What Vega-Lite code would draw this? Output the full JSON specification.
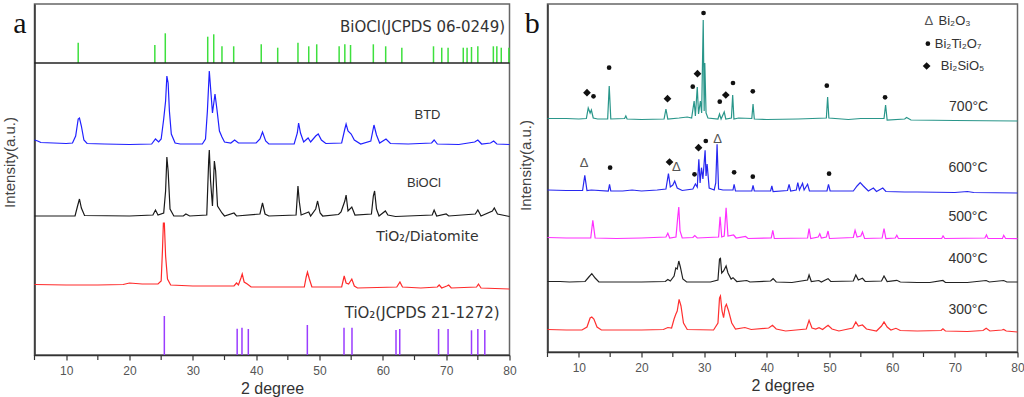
{
  "$schema": "https://vega.github.io/schema/vega-lite/v6.json",
  "padding": {"left": 1.5, "top": 3, "right": 0, "bottom": 0},
  "bounds": "flush",
  "spacing": 38,
  "background": "white",
  "config": {
    "view": {"stroke": "#666", "strokeWidth": 1.5},
    "font": "Liberation Sans",
    "axis": {"grid": false, "domainColor": "#333", "domainWidth": 1.5, "tickColor": "#333", "tickWidth": 1.2},
    "text": {"font": "Liberation Sans"}
  },
  "resolve": {"scale": {"x": "independent", "y": "independent", "color": "independent", "shape": "independent", "size": "independent"}},
  "datasets": {
    "minor": [{"t":5},{"t":15},{"t":25},{"t":35},{"t":45},{"t":55},{"t":65},{"t":75}],
    "a_lines": [
      {"s":"BTD","t":5,"v":215},{"s":"BTD","t":5.5,"v":214},{"s":"BTD","t":6,"v":212.5},{"s":"BTD","t":8,"v":212},{"s":"BTD","t":10,"v":211.5},{"s":"BTD","t":11,"v":212},{"s":"BTD","t":11.5,"v":219},{"s":"BTD","t":11.9,"v":236},{"s":"BTD","t":12.1,"v":237},{"s":"BTD","t":12.4,"v":229},{"s":"BTD","t":12.8,"v":215},{"s":"BTD","t":13.3,"v":211.5},{"s":"BTD","t":16,"v":211},{"s":"BTD","t":20,"v":210.5},{"s":"BTD","t":23.5,"v":211},{"s":"BTD","t":24.1,"v":216},{"s":"BTD","t":24.6,"v":213},{"s":"BTD","t":25,"v":216},{"s":"BTD","t":25.4,"v":236},{"s":"BTD","t":25.7,"v":254},{"s":"BTD","t":25.9,"v":279},{"s":"BTD","t":26.1,"v":272},{"s":"BTD","t":26.3,"v":244},{"s":"BTD","t":26.6,"v":221},{"s":"BTD","t":27.2,"v":212},{"s":"BTD","t":28,"v":211},{"s":"BTD","t":31.5,"v":211},{"s":"BTD","t":32,"v":216},{"s":"BTD","t":32.3,"v":244},{"s":"BTD","t":32.6,"v":284},{"s":"BTD","t":32.9,"v":259},{"s":"BTD","t":33.1,"v":242},{"s":"BTD","t":33.5,"v":261},{"s":"BTD","t":33.8,"v":246},{"s":"BTD","t":34.2,"v":224},{"s":"BTD","t":34.6,"v":218},{"s":"BTD","t":35,"v":213},{"s":"BTD","t":36,"v":212},{"s":"BTD","t":36.6,"v":215},{"s":"BTD","t":37.2,"v":212},{"s":"BTD","t":40,"v":212},{"s":"BTD","t":40.6,"v":216},{"s":"BTD","t":41,"v":223},{"s":"BTD","t":41.5,"v":214},{"s":"BTD","t":42,"v":211},{"s":"BTD","t":46,"v":211},{"s":"BTD","t":46.5,"v":222},{"s":"BTD","t":46.7,"v":232},{"s":"BTD","t":47,"v":222},{"s":"BTD","t":47.5,"v":213},{"s":"BTD","t":48.2,"v":217},{"s":"BTD","t":48.6,"v":213},{"s":"BTD","t":49.4,"v":219},{"s":"BTD","t":49.8,"v":221},{"s":"BTD","t":50.3,"v":215},{"s":"BTD","t":51,"v":211.5},{"s":"BTD","t":53.5,"v":212},{"s":"BTD","t":54,"v":226},{"s":"BTD","t":54.2,"v":231},{"s":"BTD","t":54.5,"v":224},{"s":"BTD","t":55,"v":221},{"s":"BTD","t":55.5,"v":215},{"s":"BTD","t":56.5,"v":211},{"s":"BTD","t":58.1,"v":214},{"s":"BTD","t":58.6,"v":230},{"s":"BTD","t":59,"v":220},{"s":"BTD","t":59.5,"v":212},{"s":"BTD","t":60.5,"v":216},{"s":"BTD","t":61.2,"v":211.5},{"s":"BTD","t":64,"v":211},{"s":"BTD","t":67.7,"v":212},{"s":"BTD","t":68.1,"v":215},{"s":"BTD","t":68.6,"v":211},{"s":"BTD","t":72,"v":210.5},{"s":"BTD","t":74.5,"v":213},{"s":"BTD","t":75,"v":215},{"s":"BTD","t":75.6,"v":211},{"s":"BTD","t":77,"v":212},{"s":"BTD","t":77.5,"v":214},{"s":"BTD","t":78,"v":211},{"s":"BTD","t":80,"v":210.5},
      {"s":"BiOCl","t":5,"v":139},{"s":"BiOCl","t":11.4,"v":139},{"s":"BiOCl","t":11.8,"v":149},{"s":"BiOCl","t":12.1,"v":156},{"s":"BiOCl","t":12.4,"v":147},{"s":"BiOCl","t":12.9,"v":139.5},{"s":"BiOCl","t":20,"v":139},{"s":"BiOCl","t":23.7,"v":140},{"s":"BiOCl","t":24.1,"v":145},{"s":"BiOCl","t":24.5,"v":140},{"s":"BiOCl","t":25.4,"v":142},{"s":"BiOCl","t":25.7,"v":164},{"s":"BiOCl","t":25.9,"v":198},{"s":"BiOCl","t":26.1,"v":184},{"s":"BiOCl","t":26.4,"v":146},{"s":"BiOCl","t":27,"v":139},{"s":"BiOCl","t":28.5,"v":139},{"s":"BiOCl","t":28.9,"v":141},{"s":"BiOCl","t":29.5,"v":139},{"s":"BiOCl","t":32.2,"v":140},{"s":"BiOCl","t":32.5,"v":194},{"s":"BiOCl","t":32.6,"v":205},{"s":"BiOCl","t":32.8,"v":174},{"s":"BiOCl","t":33.1,"v":149},{"s":"BiOCl","t":33.4,"v":194},{"s":"BiOCl","t":33.6,"v":184},{"s":"BiOCl","t":33.9,"v":149},{"s":"BiOCl","t":34.6,"v":142},{"s":"BiOCl","t":35,"v":139},{"s":"BiOCl","t":36.5,"v":142},{"s":"BiOCl","t":36.9,"v":139},{"s":"BiOCl","t":40.6,"v":141},{"s":"BiOCl","t":41,"v":152},{"s":"BiOCl","t":41.4,"v":141},{"s":"BiOCl","t":42,"v":139},{"s":"BiOCl","t":46.3,"v":140},{"s":"BiOCl","t":46.6,"v":169},{"s":"BiOCl","t":46.8,"v":154},{"s":"BiOCl","t":47.1,"v":140},{"s":"BiOCl","t":48.3,"v":143},{"s":"BiOCl","t":48.6,"v":139},{"s":"BiOCl","t":49.4,"v":146},{"s":"BiOCl","t":49.7,"v":154},{"s":"BiOCl","t":50.1,"v":142},{"s":"BiOCl","t":50.5,"v":139},{"s":"BiOCl","t":53,"v":140.5},{"s":"BiOCl","t":53.4,"v":143},{"s":"BiOCl","t":54,"v":154},{"s":"BiOCl","t":54.2,"v":160},{"s":"BiOCl","t":54.5,"v":144},{"s":"BiOCl","t":55.1,"v":148},{"s":"BiOCl","t":55.6,"v":140},{"s":"BiOCl","t":58.2,"v":141},{"s":"BiOCl","t":58.5,"v":159},{"s":"BiOCl","t":58.7,"v":164},{"s":"BiOCl","t":59,"v":146},{"s":"BiOCl","t":59.4,"v":139},{"s":"BiOCl","t":60.4,"v":144},{"s":"BiOCl","t":60.8,"v":140},{"s":"BiOCl","t":62,"v":138.5},{"s":"BiOCl","t":67.8,"v":140},{"s":"BiOCl","t":68.1,"v":145},{"s":"BiOCl","t":68.5,"v":139},{"s":"BiOCl","t":70,"v":141},{"s":"BiOCl","t":70.4,"v":139},{"s":"BiOCl","t":74.6,"v":141},{"s":"BiOCl","t":75,"v":145},{"s":"BiOCl","t":75.5,"v":139},{"s":"BiOCl","t":77.3,"v":144},{"s":"BiOCl","t":77.6,"v":147},{"s":"BiOCl","t":78.1,"v":141},{"s":"BiOCl","t":80,"v":138.5},
      {"s":"TiO2/Diatomite","t":5,"v":70.5},{"s":"TiO2/Diatomite","t":10,"v":70},{"s":"TiO2/Diatomite","t":15,"v":70},{"s":"TiO2/Diatomite","t":19,"v":70.5},{"s":"TiO2/Diatomite","t":20,"v":72},{"s":"TiO2/Diatomite","t":22,"v":71},{"s":"TiO2/Diatomite","t":24.5,"v":71},{"s":"TiO2/Diatomite","t":25,"v":74},{"s":"TiO2/Diatomite","t":25.2,"v":104},{"s":"TiO2/Diatomite","t":25.35,"v":132},{"s":"TiO2/Diatomite","t":25.5,"v":132},{"s":"TiO2/Diatomite","t":25.7,"v":99},{"s":"TiO2/Diatomite","t":26,"v":76},{"s":"TiO2/Diatomite","t":26.5,"v":70},{"s":"TiO2/Diatomite","t":30,"v":69},{"s":"TiO2/Diatomite","t":36.5,"v":69},{"s":"TiO2/Diatomite","t":36.9,"v":72},{"s":"TiO2/Diatomite","t":37.2,"v":70},{"s":"TiO2/Diatomite","t":37.6,"v":77},{"s":"TiO2/Diatomite","t":37.8,"v":81},{"s":"TiO2/Diatomite","t":38.1,"v":73},{"s":"TiO2/Diatomite","t":38.6,"v":71},{"s":"TiO2/Diatomite","t":39.2,"v":68},{"s":"TiO2/Diatomite","t":47.6,"v":68},{"s":"TiO2/Diatomite","t":47.9,"v":78},{"s":"TiO2/Diatomite","t":48.1,"v":83},{"s":"TiO2/Diatomite","t":48.4,"v":76},{"s":"TiO2/Diatomite","t":48.8,"v":68},{"s":"TiO2/Diatomite","t":53.5,"v":68},{"s":"TiO2/Diatomite","t":53.9,"v":79},{"s":"TiO2/Diatomite","t":54.2,"v":72},{"s":"TiO2/Diatomite","t":54.6,"v":71},{"s":"TiO2/Diatomite","t":55.1,"v":76},{"s":"TiO2/Diatomite","t":55.5,"v":69},{"s":"TiO2/Diatomite","t":56,"v":67},{"s":"TiO2/Diatomite","t":62.2,"v":68},{"s":"TiO2/Diatomite","t":62.7,"v":73},{"s":"TiO2/Diatomite","t":63.1,"v":68},{"s":"TiO2/Diatomite","t":66,"v":67},{"s":"TiO2/Diatomite","t":68.6,"v":68},{"s":"TiO2/Diatomite","t":68.9,"v":70},{"s":"TiO2/Diatomite","t":69.3,"v":67},{"s":"TiO2/Diatomite","t":70.1,"v":69},{"s":"TiO2/Diatomite","t":70.4,"v":70},{"s":"TiO2/Diatomite","t":70.8,"v":67},{"s":"TiO2/Diatomite","t":74.8,"v":68},{"s":"TiO2/Diatomite","t":75.1,"v":71},{"s":"TiO2/Diatomite","t":75.5,"v":67},{"s":"TiO2/Diatomite","t":80,"v":66}
    ],
    "a_ref_bioc": [
      {"t":11.9,"v":312.3},{"t":24.0,"v":310},{"t":25.65,"v":321.7},{"t":32.35,"v":318.3},{"t":33.3,"v":320.7},{"t":34.6,"v":308.7},{"t":36.45,"v":308.7},{"t":40.8,"v":310.7},{"t":43.4,"v":307.3},{"t":46.6,"v":312.3},{"t":48.3,"v":308.7},{"t":49.56,"v":310.7},{"t":53.1,"v":308.7},{"t":54.0,"v":310.7},{"t":54.9,"v":310},{"t":58.5,"v":310.7},{"t":60.45,"v":308.7},{"t":63.0,"v":307.3},{"t":68.0,"v":308.7},{"t":69.3,"v":307.3},{"t":70.3,"v":307.3},{"t":72.7,"v":307.3},{"t":73.3,"v":307.3},{"t":74.0,"v":308},{"t":75.0,"v":308.7},{"t":77.45,"v":308.7},{"t":78.0,"v":308.7},{"t":78.7,"v":307.3},{"t":79.9,"v":307.3}
    ],
    "a_ref_tio2": [
      {"t":25.5,"v":39},{"t":37.0,"v":26.3},{"t":37.76,"v":27.3},{"t":38.76,"v":26},{"t":48.08,"v":30},{"t":53.87,"v":27.3},{"t":55.13,"v":27.3},{"t":62.08,"v":25},{"t":62.67,"v":26},{"t":68.8,"v":26},{"t":70.3,"v":26},{"t":74.0,"v":24.7},{"t":75.0,"v":26},{"t":76.1,"v":25}
    ],
    "a_text_short": [
      {"t":67.05,"v":240,"label":"BTD"},{"t":66.5,"v":172,"label":"BiOCl"}
    ],
    "a_text_mid": [
      {"t":67.05,"v":118,"label":"TiO₂/Diatomite"}
    ],
    "a_text_long": [
      {"t":66.2,"v":42,"label":"TiO₂(JCPDS 21-1272)"}
    ],
    "b_lines": [
      {"s":"700","t":5,"v":233.5},{"s":"700","t":8,"v":233.5},{"s":"700","t":10,"v":233},{"s":"700","t":11.2,"v":233.5},{"s":"700","t":11.5,"v":244},{"s":"700","t":11.8,"v":239},{"s":"700","t":12,"v":242},{"s":"700","t":12.3,"v":234},{"s":"700","t":13,"v":233},{"s":"700","t":14.6,"v":233},{"s":"700","t":14.85,"v":266},{"s":"700","t":15.1,"v":233},{"s":"700","t":17.3,"v":233.5},{"s":"700","t":17.5,"v":236},{"s":"700","t":17.7,"v":233},{"s":"700","t":20,"v":232.5},{"s":"700","t":23.6,"v":233},{"s":"700","t":23.9,"v":243},{"s":"700","t":24.2,"v":233},{"s":"700","t":26,"v":234},{"s":"700","t":27.3,"v":235},{"s":"700","t":28,"v":234},{"s":"700","t":28.4,"v":251},{"s":"700","t":28.6,"v":236},{"s":"700","t":28.9,"v":265},{"s":"700","t":29.1,"v":238},{"s":"700","t":29.4,"v":251},{"s":"700","t":29.6,"v":239},{"s":"700","t":29.85,"v":332},{"s":"700","t":30,"v":241},{"s":"700","t":30.1,"v":289},{"s":"700","t":30.3,"v":239},{"s":"700","t":30.6,"v":234},{"s":"700","t":32.2,"v":233},{"s":"700","t":32.45,"v":238},{"s":"700","t":32.7,"v":233},{"s":"700","t":33.2,"v":240},{"s":"700","t":33.45,"v":233},{"s":"700","t":34.35,"v":234},{"s":"700","t":34.55,"v":257},{"s":"700","t":34.75,"v":233},{"s":"700","t":35.5,"v":234},{"s":"700","t":37.6,"v":233.5},{"s":"700","t":37.8,"v":248},{"s":"700","t":38,"v":233},{"s":"700","t":40,"v":232.5},{"s":"700","t":45,"v":233},{"s":"700","t":49.5,"v":234},{"s":"700","t":49.7,"v":255},{"s":"700","t":49.9,"v":234},{"s":"700","t":53,"v":232.5},{"s":"700","t":55,"v":233.5},{"s":"700","t":58.7,"v":233.5},{"s":"700","t":58.95,"v":247},{"s":"700","t":59.2,"v":232},{"s":"700","t":62,"v":233},{"s":"700","t":62.3,"v":234.5},{"s":"700","t":63,"v":232},{"s":"700","t":70,"v":231.5},{"s":"700","t":80,"v":231},
      {"s":"600","t":5,"v":162},{"s":"600","t":8,"v":161.5},{"s":"600","t":10.6,"v":161.5},{"s":"600","t":10.95,"v":176.7},{"s":"600","t":11.3,"v":161.5},{"s":"600","t":12,"v":162},{"s":"600","t":14.7,"v":161},{"s":"600","t":14.9,"v":167.7},{"s":"600","t":15.1,"v":161},{"s":"600","t":17,"v":161},{"s":"600","t":18.5,"v":162},{"s":"600","t":20,"v":161},{"s":"600","t":22.5,"v":162},{"s":"600","t":23.9,"v":163},{"s":"600","t":24.3,"v":178.3},{"s":"600","t":24.6,"v":165},{"s":"600","t":25,"v":167},{"s":"600","t":25.3,"v":171},{"s":"600","t":25.7,"v":164},{"s":"600","t":26.5,"v":161.5},{"s":"600","t":28.2,"v":163},{"s":"600","t":28.6,"v":168},{"s":"600","t":28.9,"v":165},{"s":"600","t":29.15,"v":192.7},{"s":"600","t":29.35,"v":169},{"s":"600","t":29.57,"v":184.3},{"s":"600","t":29.8,"v":173},{"s":"600","t":30.15,"v":201.7},{"s":"600","t":30.3,"v":176},{"s":"600","t":30.47,"v":188},{"s":"600","t":30.8,"v":164},{"s":"600","t":31.6,"v":162},{"s":"600","t":31.85,"v":169},{"s":"600","t":32.06,"v":207.7},{"s":"600","t":32.3,"v":163},{"s":"600","t":33,"v":162},{"s":"600","t":34.6,"v":162},{"s":"600","t":34.78,"v":167.7},{"s":"600","t":35,"v":161},{"s":"600","t":37.6,"v":161},{"s":"600","t":37.8,"v":166.7},{"s":"600","t":38,"v":161},{"s":"600","t":40.6,"v":161},{"s":"600","t":40.8,"v":166},{"s":"600","t":41,"v":160.5},{"s":"600","t":43.3,"v":161.5},{"s":"600","t":43.55,"v":167.7},{"s":"600","t":43.8,"v":161},{"s":"600","t":44.7,"v":162},{"s":"600","t":44.94,"v":169.3},{"s":"600","t":45.2,"v":162},{"s":"600","t":45.7,"v":168.7},{"s":"600","t":45.95,"v":162},{"s":"600","t":46.5,"v":167.7},{"s":"600","t":46.8,"v":161},{"s":"600","t":49.6,"v":161},{"s":"600","t":49.84,"v":167.7},{"s":"600","t":50.1,"v":161},{"s":"600","t":53.8,"v":161},{"s":"600","t":54.4,"v":166},{"s":"600","t":54.9,"v":169.3},{"s":"600","t":55.4,"v":166},{"s":"600","t":56.2,"v":161},{"s":"600","t":57,"v":164},{"s":"600","t":57.5,"v":160.5},{"s":"600","t":58.5,"v":164},{"s":"600","t":59,"v":160.5},{"s":"600","t":62,"v":160},{"s":"600","t":64,"v":160},{"s":"600","t":70,"v":159.5},{"s":"600","t":72,"v":160.5},{"s":"600","t":73,"v":159.5},{"s":"600","t":80,"v":159},
      {"s":"500","t":5,"v":114.5},{"s":"500","t":8,"v":114},{"s":"500","t":11.9,"v":114},{"s":"500","t":12.23,"v":131.7},{"s":"500","t":12.6,"v":114},{"s":"500","t":16,"v":113.5},{"s":"500","t":20,"v":114},{"s":"500","t":23.9,"v":115},{"s":"500","t":24.2,"v":118.7},{"s":"500","t":24.5,"v":114},{"s":"500","t":25.5,"v":115},{"s":"500","t":25.8,"v":136},{"s":"500","t":25.95,"v":145},{"s":"500","t":26.15,"v":121},{"s":"500","t":26.5,"v":114},{"s":"500","t":28.2,"v":114.5},{"s":"500","t":28.5,"v":116.5},{"s":"500","t":28.9,"v":114},{"s":"500","t":32.3,"v":115},{"s":"500","t":32.54,"v":135.3},{"s":"500","t":32.8,"v":115},{"s":"500","t":33.2,"v":116},{"s":"500","t":33.5,"v":144.3},{"s":"500","t":33.8,"v":116},{"s":"500","t":34.7,"v":117},{"s":"500","t":35.1,"v":114},{"s":"500","t":36.6,"v":115.5},{"s":"500","t":37,"v":113.5},{"s":"500","t":40.7,"v":114},{"s":"500","t":40.95,"v":121.7},{"s":"500","t":41.2,"v":113.5},{"s":"500","t":46.5,"v":114},{"s":"500","t":46.74,"v":123.3},{"s":"500","t":47,"v":113.5},{"s":"500","t":48.2,"v":115},{"s":"500","t":48.45,"v":118.3},{"s":"500","t":48.7,"v":114},{"s":"500","t":49.5,"v":115},{"s":"500","t":49.77,"v":121},{"s":"500","t":50,"v":113.5},{"s":"500","t":53.8,"v":114.5},{"s":"500","t":54.08,"v":121.7},{"s":"500","t":54.4,"v":115},{"s":"500","t":55,"v":116},{"s":"500","t":55.26,"v":120},{"s":"500","t":55.6,"v":113.5},{"s":"500","t":58.4,"v":114},{"s":"500","t":58.7,"v":123.3},{"s":"500","t":59,"v":113.5},{"s":"500","t":60.5,"v":114},{"s":"500","t":60.74,"v":116.7},{"s":"500","t":61,"v":113.5},{"s":"500","t":67.9,"v":113.5},{"s":"500","t":68.12,"v":116},{"s":"500","t":68.4,"v":113.5},{"s":"500","t":74.8,"v":114},{"s":"500","t":75.05,"v":117},{"s":"500","t":75.3,"v":113.5},{"s":"500","t":77.6,"v":113.5},{"s":"500","t":77.8,"v":116.7},{"s":"500","t":78.1,"v":113.5},{"s":"500","t":80,"v":113.3},
      {"s":"400","t":5,"v":70.5},{"s":"400","t":7,"v":70.5},{"s":"400","t":8.5,"v":70},{"s":"400","t":11,"v":70.5},{"s":"400","t":11.6,"v":75},{"s":"400","t":12.07,"v":78.3},{"s":"400","t":12.6,"v":74},{"s":"400","t":13.2,"v":70},{"s":"400","t":16,"v":70},{"s":"400","t":20,"v":70},{"s":"400","t":23.8,"v":70.5},{"s":"400","t":24.2,"v":72.5},{"s":"400","t":24.6,"v":71},{"s":"400","t":25.2,"v":76},{"s":"400","t":25.47,"v":84},{"s":"400","t":25.7,"v":83},{"s":"400","t":25.95,"v":91},{"s":"400","t":26.2,"v":85},{"s":"400","t":26.6,"v":73},{"s":"400","t":27.2,"v":70},{"s":"400","t":31,"v":70},{"s":"400","t":32.2,"v":72},{"s":"400","t":32.45,"v":93},{"s":"400","t":32.6,"v":93.7},{"s":"400","t":32.8,"v":79},{"s":"400","t":33.1,"v":81},{"s":"400","t":33.5,"v":86},{"s":"400","t":33.8,"v":79},{"s":"400","t":34.3,"v":73},{"s":"400","t":34.6,"v":74.3},{"s":"400","t":35.2,"v":70.5},{"s":"400","t":36.8,"v":71.5},{"s":"400","t":37.3,"v":70},{"s":"400","t":40.6,"v":71},{"s":"400","t":41,"v":73.3},{"s":"400","t":41.5,"v":70},{"s":"400","t":44,"v":69.5},{"s":"400","t":46.5,"v":72},{"s":"400","t":46.74,"v":77},{"s":"400","t":47.1,"v":70.5},{"s":"400","t":48.3,"v":71.5},{"s":"400","t":48.7,"v":70},{"s":"400","t":49.5,"v":72.5},{"s":"400","t":49.77,"v":73.3},{"s":"400","t":50.2,"v":70.5},{"s":"400","t":53.8,"v":71},{"s":"400","t":54.2,"v":77},{"s":"400","t":54.6,"v":72},{"s":"400","t":55.26,"v":73.7},{"s":"400","t":55.7,"v":70.5},{"s":"400","t":58.3,"v":71},{"s":"400","t":58.7,"v":76},{"s":"400","t":59.2,"v":70.5},{"s":"400","t":60.74,"v":71.7},{"s":"400","t":61.3,"v":70},{"s":"400","t":64,"v":69.5},{"s":"400","t":66,"v":69.5},{"s":"400","t":68.1,"v":71.5},{"s":"400","t":68.5,"v":69.5},{"s":"400","t":72,"v":69.5},{"s":"400","t":75,"v":71.5},{"s":"400","t":75.5,"v":70},{"s":"400","t":77.8,"v":71.5},{"s":"400","t":78.3,"v":70},{"s":"400","t":80,"v":70},
      {"s":"300","t":5,"v":22.5},{"s":"300","t":8,"v":22},{"s":"300","t":10.5,"v":22},{"s":"300","t":11.3,"v":25},{"s":"300","t":11.8,"v":34},{"s":"300","t":12.07,"v":35},{"s":"300","t":12.4,"v":33},{"s":"300","t":12.9,"v":25},{"s":"300","t":13.6,"v":22},{"s":"300","t":20,"v":22},{"s":"300","t":23.5,"v":22.5},{"s":"300","t":24.2,"v":24.5},{"s":"300","t":24.8,"v":24},{"s":"300","t":25.2,"v":33},{"s":"300","t":25.47,"v":37.7},{"s":"300","t":25.7,"v":41},{"s":"300","t":26,"v":52.7},{"s":"300","t":26.3,"v":46},{"s":"300","t":26.7,"v":29},{"s":"300","t":27.3,"v":22.5},{"s":"300","t":31.5,"v":22},{"s":"300","t":32.2,"v":29},{"s":"300","t":32.45,"v":54},{"s":"300","t":32.6,"v":56},{"s":"300","t":32.85,"v":41},{"s":"300","t":33.1,"v":34.3},{"s":"300","t":33.35,"v":45},{"s":"300","t":33.55,"v":47.7},{"s":"300","t":33.9,"v":41},{"s":"300","t":34.4,"v":29},{"s":"300","t":35,"v":23},{"s":"300","t":36.5,"v":24.5},{"s":"300","t":37.5,"v":22.5},{"s":"300","t":40.3,"v":24},{"s":"300","t":40.9,"v":26.7},{"s":"300","t":41.5,"v":23},{"s":"300","t":43,"v":21},{"s":"300","t":46.3,"v":23},{"s":"300","t":46.74,"v":31.7},{"s":"300","t":47.2,"v":24},{"s":"300","t":47.8,"v":23},{"s":"300","t":48.33,"v":24.3},{"s":"300","t":48.9,"v":22.5},{"s":"300","t":49.4,"v":25},{"s":"300","t":49.77,"v":26.7},{"s":"300","t":50.4,"v":23},{"s":"300","t":51.5,"v":21},{"s":"300","t":53.7,"v":24},{"s":"300","t":54.2,"v":30},{"s":"300","t":54.6,"v":26},{"s":"300","t":55.26,"v":27},{"s":"300","t":55.9,"v":23},{"s":"300","t":57.5,"v":21},{"s":"300","t":58.3,"v":26},{"s":"300","t":58.7,"v":30},{"s":"300","t":59.2,"v":25},{"s":"300","t":59.8,"v":22},{"s":"300","t":60.6,"v":23.7},{"s":"300","t":61.3,"v":21.5},{"s":"300","t":64,"v":21},{"s":"300","t":67.8,"v":21.5},{"s":"300","t":68.1,"v":23.3},{"s":"300","t":68.5,"v":21},{"s":"300","t":72,"v":20.5},{"s":"300","t":74.5,"v":21.5},{"s":"300","t":75,"v":23.7},{"s":"300","t":75.6,"v":21},{"s":"300","t":77.5,"v":22},{"s":"300","t":77.8,"v":22.5},{"s":"300","t":78.2,"v":21},{"s":"300","t":80,"v":20}
    ],
    "b_marks": [
      {"t":11.3,"v":259.3,"k":"diamond"},{"t":12.34,"v":255.7,"k":"dot"},{"t":14.83,"v":284.3,"k":"dot"},{"t":24.15,"v":253.3,"k":"diamond"},{"t":28.18,"v":265.3,"k":"dot"},{"t":28.93,"v":278.3,"k":"diamond"},{"t":29.9,"v":339,"k":"dot"},{"t":32.49,"v":250.3,"k":"dot"},{"t":33.45,"v":257,"k":"diamond"},{"t":34.6,"v":269,"k":"dot"},{"t":37.76,"v":260.7,"k":"dot"},{"t":49.57,"v":266.3,"k":"dot"},{"t":58.87,"v":254.7,"k":"dot"},
      {"t":14.99,"v":184.3,"k":"dot"},{"t":24.47,"v":190,"k":"diamond"},{"t":28.46,"v":177.7,"k":"dot"},{"t":29.1,"v":204.3,"k":"diamond"},{"t":30.26,"v":211,"k":"dot"},{"t":34.78,"v":179.7,"k":"dot"},{"t":37.76,"v":175.3,"k":"dot"},{"t":49.93,"v":178.3,"k":"dot"},
      {"t":65.7,"v":308.3,"k":"dot"},{"t":65.5,"v":286,"k":"diamond"}
    ],
    "b_tri": [
      {"t":10.84,"v":188.7},{"t":25.58,"v":185},{"t":32.13,"v":213},{"t":65.86,"v":331}
    ],
    "b_text": [
      {"t":72.2,"v":245,"label":"700°C"},{"t":72.1,"v":184.3,"label":"600°C"},{"t":72.1,"v":135,"label":"500°C"},{"t":72.1,"v":92.7,"label":"400°C"},{"t":72.1,"v":41.7,"label":"300°C"}
    ],
    "b_leg": [
      {"t":67.4,"v":331,"label":"Bi₂O₃"},{"t":66.8,"v":308.3,"label":"Bi₂Ti₂O₇"},{"t":67.76,"v":286,"label":"Bi₂SiO₅"}
    ]
  },
  "hconcat": [
    {
      "width": 475,
      "height": 351,
      "layer": [
        {
          "data": {"name": "a_lines"},
          "mark": {"type": "line", "strokeWidth": 1.2},
          "encoding": {
            "x": {"field": "t", "type": "quantitative", "scale": {"domain": [5, 80], "nice": false, "zero": false},
              "axis": {"title": "2 degree", "values": [10,20,30,40,50,60,70,80], "tickSize": 5, "labelFontSize": 12, "labelColor": "#555", "labelPadding": 5, "labelFlush": false, "titleFontSize": 16, "titleFontWeight": "normal", "titleColor": "#333", "titlePadding": 4}},
            "y": {"field": "v", "type": "quantitative", "scale": {"domain": [0, 351], "nice": false, "zero": false},
              "axis": {"title": "Intensity(a.u.)", "labels": false, "ticks": false, "titleFontSize": 15, "titleFontWeight": "normal", "titleColor": "#444", "titlePadding": 17, "titleY": 158}},
            "color": {"field": "s", "type": "nominal", "scale": {"domain": ["BTD", "BiOCl", "TiO2/Diatomite"], "range": ["#2020ff", "#1a1a1a", "#ff2a2a"]}, "legend": null}
          }
        },
        {
          "data": {"name": "minor"},
          "mark": {"type": "rule", "color": "#333", "strokeWidth": 1.2},
          "encoding": {
            "x": {"field": "t", "type": "quantitative", "scale": {"domain": [5, 80], "nice": false, "zero": false}},
            "y": {"datum": 0, "type": "quantitative", "scale": {"domain": [0, 351], "nice": false, "zero": false}},
            "y2": {"datum": -5}
          }
        },
        {
          "data": {"name": "a_ref_bioc"},
          "mark": {"type": "rule", "color": "#3ee03e", "strokeWidth": 1.5},
          "encoding": {
            "x": {"field": "t", "type": "quantitative", "scale": {"domain": [5, 80], "nice": false, "zero": false}},
            "y": {"field": "v", "type": "quantitative", "scale": {"domain": [0, 351], "nice": false, "zero": false}},
            "y2": {"datum": 292}
          }
        },
        {
          "data": {"name": "a_ref_tio2"},
          "mark": {"type": "rule", "color": "#9a3cff", "strokeWidth": 1.5},
          "encoding": {
            "x": {"field": "t", "type": "quantitative", "scale": {"domain": [5, 80], "nice": false, "zero": false}},
            "y": {"field": "v", "type": "quantitative", "scale": {"domain": [0, 351], "nice": false, "zero": false}},
            "y2": {"datum": 0}
          }
        },
        {
          "data": {"values": [{"v": 292}]},
          "mark": {"type": "rule", "color": "#222", "strokeWidth": 1.5},
          "encoding": {
            "y": {"field": "v", "type": "quantitative", "scale": {"domain": [0, 351], "nice": false, "zero": false}}
          }
        },
        {
          "data": {"name": "a_text_short"},
          "mark": {"type": "text", "fontSize": 13, "color": "#333", "align": "center", "baseline": "middle"},
          "encoding": {
            "x": {"field": "t", "type": "quantitative", "scale": {"domain": [5, 80], "nice": false, "zero": false}},
            "y": {"field": "v", "type": "quantitative", "scale": {"domain": [0, 351], "nice": false, "zero": false}},
            "text": {"field": "label"}
          }
        },
        {
          "data": {"name": "a_text_mid"},
          "mark": {"type": "text", "font": "DejaVu Sans", "fontSize": 14, "color": "#333", "align": "center", "baseline": "middle"},
          "encoding": {
            "x": {"field": "t", "type": "quantitative", "scale": {"domain": [5, 80], "nice": false, "zero": false}},
            "y": {"field": "v", "type": "quantitative", "scale": {"domain": [0, 351], "nice": false, "zero": false}},
            "text": {"field": "label"}
          }
        },
        {
          "data": {"name": "a_text_long"},
          "mark": {"type": "text", "font": "DejaVu Sans", "fontSize": 15, "color": "#333", "align": "center", "baseline": "middle"},
          "encoding": {
            "x": {"field": "t", "type": "quantitative", "scale": {"domain": [5, 80], "nice": false, "zero": false}},
            "y": {"field": "v", "type": "quantitative", "scale": {"domain": [0, 351], "nice": false, "zero": false}},
            "text": {"field": "label"}
          }
        },
        {
          "data": {"values": [{"t": 79.3, "v": 328, "label": "BiOCl(JCPDS 06-0249)"}]},
          "mark": {"type": "text", "font": "DejaVu Sans", "fontSize": 15, "color": "#333", "align": "right", "baseline": "middle"},
          "encoding": {
            "x": {"field": "t", "type": "quantitative", "scale": {"domain": [5, 80], "nice": false, "zero": false}},
            "y": {"field": "v", "type": "quantitative", "scale": {"domain": [0, 351], "nice": false, "zero": false}},
            "text": {"field": "label"}
          }
        },
        {
          "data": {"values": [{"t": 2.71, "v": 322, "label": "a"}]},
          "mark": {"type": "text", "font": "Liberation Serif", "fontSize": 30, "color": "#111", "align": "center", "baseline": "alphabetic"},
          "encoding": {
            "x": {"field": "t", "type": "quantitative", "scale": {"domain": [5, 80], "nice": false, "zero": false}},
            "y": {"field": "v", "type": "quantitative", "scale": {"domain": [0, 351], "nice": false, "zero": false}},
            "text": {"field": "label"}
          }
        }
      ]
    },
    {
      "width": 470,
      "height": 348,
      "layer": [
        {
          "data": {"name": "b_lines"},
          "mark": {"type": "line", "strokeWidth": 1.2},
          "encoding": {
            "x": {"field": "t", "type": "quantitative", "scale": {"domain": [5, 80], "nice": false, "zero": false},
              "axis": {"title": "2 degree", "values": [10,20,30,40,50,60,70,80], "tickSize": 5, "labelFontSize": 12, "labelColor": "#555", "labelPadding": 5, "labelFlush": false, "titleFontSize": 16, "titleFontWeight": "normal", "titleColor": "#333", "titlePadding": 4}},
            "y": {"field": "v", "type": "quantitative", "scale": {"domain": [0, 348], "nice": false, "zero": false},
              "axis": {"title": "Intensity(a.u.)", "labels": false, "ticks": false, "titleFontSize": 15, "titleFontWeight": "normal", "titleColor": "#444", "titlePadding": 14, "titleY": 161}},
            "color": {"field": "s", "type": "nominal", "scale": {"domain": ["700", "600", "500", "400", "300"], "range": ["#29968a", "#2828f0", "#ff30ff", "#222222", "#ff3030"]}, "legend": null}
          }
        },
        {
          "data": {"name": "minor"},
          "mark": {"type": "rule", "color": "#333", "strokeWidth": 1.2},
          "encoding": {
            "x": {"field": "t", "type": "quantitative", "scale": {"domain": [5, 80], "nice": false, "zero": false}},
            "y": {"datum": 0, "type": "quantitative", "scale": {"domain": [0, 348], "nice": false, "zero": false}},
            "y2": {"datum": -5}
          }
        },
        {
          "data": {"name": "b_marks"},
          "mark": {"type": "point", "filled": true, "color": "#111", "opacity": 1},
          "encoding": {
            "x": {"field": "t", "type": "quantitative", "scale": {"domain": [5, 80], "nice": false, "zero": false}},
            "y": {"field": "v", "type": "quantitative", "scale": {"domain": [0, 348], "nice": false, "zero": false}},
            "shape": {"field": "k", "type": "nominal", "scale": {"domain": ["dot", "diamond"], "range": ["circle", "diamond"]}, "legend": null},
            "size": {"field": "k", "type": "nominal", "scale": {"domain": ["dot", "diamond"], "range": [22, 60]}, "legend": null}
          }
        },
        {
          "data": {"name": "b_tri"},
          "mark": {"type": "text", "text": "Δ", "fontSize": 13, "color": "#555", "align": "center", "baseline": "middle"},
          "encoding": {
            "x": {"field": "t", "type": "quantitative", "scale": {"domain": [5, 80], "nice": false, "zero": false}},
            "y": {"field": "v", "type": "quantitative", "scale": {"domain": [0, 348], "nice": false, "zero": false}}
          }
        },
        {
          "data": {"name": "b_text"},
          "mark": {"type": "text", "fontSize": 14, "color": "#333", "align": "center", "baseline": "middle"},
          "encoding": {
            "x": {"field": "t", "type": "quantitative", "scale": {"domain": [5, 80], "nice": false, "zero": false}},
            "y": {"field": "v", "type": "quantitative", "scale": {"domain": [0, 348], "nice": false, "zero": false}},
            "text": {"field": "label"}
          }
        },
        {
          "data": {"name": "b_leg"},
          "mark": {"type": "text", "fontSize": 13, "color": "#333", "align": "left", "baseline": "middle"},
          "encoding": {
            "x": {"field": "t", "type": "quantitative", "scale": {"domain": [5, 80], "nice": false, "zero": false}},
            "y": {"field": "v", "type": "quantitative", "scale": {"domain": [0, 348], "nice": false, "zero": false}},
            "text": {"field": "label"}
          }
        },
        {
          "data": {"values": [{"t": 2.57, "v": 319, "label": "b"}]},
          "mark": {"type": "text", "font": "Liberation Serif", "fontSize": 30, "color": "#111", "align": "center", "baseline": "alphabetic"},
          "encoding": {
            "x": {"field": "t", "type": "quantitative", "scale": {"domain": [5, 80], "nice": false, "zero": false}},
            "y": {"field": "v", "type": "quantitative", "scale": {"domain": [0, 348], "nice": false, "zero": false}},
            "text": {"field": "label"}
          }
        }
      ]
    }
  ]
}
